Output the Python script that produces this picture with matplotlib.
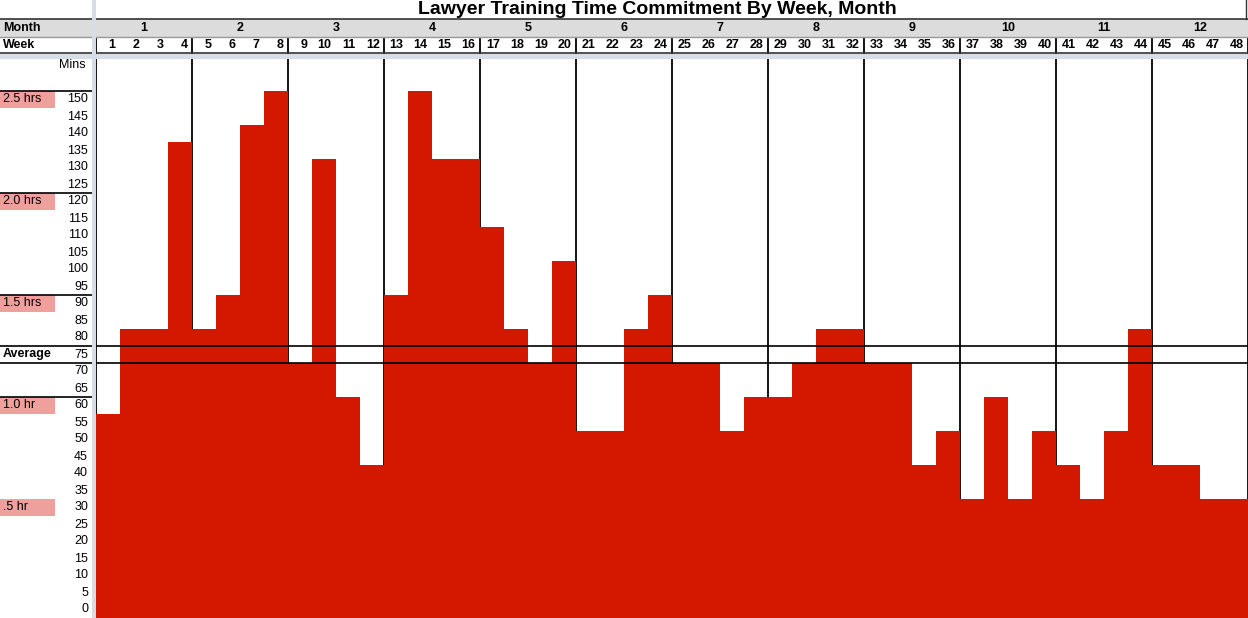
import matplotlib.pyplot as plt
import numpy as np

plt.rcParams['font.family'] = ['Liberation Sans', 'DejaVu Sans']

title = 'Lawyer Training Time Commitment By Week, Month'
months = list(range(1, 13))
weeks = np.arange(1, 49)
mins = [55, 80, 80, 135, 80, 90, 140, 150, 70, 130, 60, 40,
        90, 150, 130, 130, 110, 80, 70, 100, 50, 50, 80, 90,
        70, 70, 50, 60, 60, 70, 80, 80, 70, 70, 40, 50,
        30, 60, 30, 50, 40, 30, 50, 80, 40, 40, 30, 30]
y_ticks = list(range(0, 155, 5))
hour_labels = ['2.5 hrs', '2.0 hrs', '1.5 hrs', '1.0 hr', '.5 hr']
hour_mins = [150, 120, 90, 60, 30]
lined_hours = [150, 120, 90, 60]
average_mins = 75

RED = '#d41800'
PINK = '#ef9f9c'
SEP = '#d6dde6'
PX = 3.4                      # pixels per minute
Y_TOP = -2.5 + 618 / PX


def ypix(p):
    return Y_TOP - p / PX


def xpix(p):
    return p / 24 - 4


fig = plt.figure(figsize=(12.48, 6.18), dpi=100)
ax = fig.add_axes([0, 0, 1, 1])
ax.set_xlim(-4, 48)
ax.set_ylim(-2.5, Y_TOP)
ax.axis('off')

# bars fill whole spreadsheet cells, up to the top of the row of their value
ax.bar(weeks - 1, np.array(mins) + 5, width=1, bottom=-2.5, align='edge',
       color=RED, linewidth=0, zorder=2)

# month boundaries
for k in range(0, 49, 4):
    ax.plot([k, k], [-2.5, ypix(37)], color='black', lw=1.3, zorder=1)
    ax.plot([k, k], [ypix(37), ypix(19)], color='#999999', lw=1, zorder=1)

# average row
for yy in (average_mins - 2.5, average_mins + 2.5):
    ax.plot([-4, 48], [yy, yy], color='black', lw=1.2, zorder=3)
ax.text(xpix(3), average_mins, 'Average', ha='left', va='center',
        fontsize=9, fontweight='bold')

# y labels
for m in y_ticks:
    ax.text(xpix(88), m, str(m), ha='right', va='center', fontsize=9)
ax.text(xpix(86), 160, 'Mins', ha='right', va='center', fontsize=9)

for lab, m in zip(hour_labels, hour_mins):
    ax.add_patch(plt.Rectangle((-4, m - 2.5), xpix(55) + 4, 5,
                               color=PINK, lw=0, zorder=1))
    ax.text(xpix(3), m, lab, ha='left', va='center', fontsize=9)
for m in lined_hours:
    ax.plot([-4, xpix(92)], [m + 2.5, m + 2.5], color='black', lw=1.2)

# header rows
ax.add_patch(plt.Rectangle((-4, ypix(37)), 52, ypix(19) - ypix(37),
                           color='#dcdcdc', lw=0, zorder=1))
ax.plot([-4, 48], [ypix(19), ypix(19)], color='#333333', lw=1.2)
ax.plot([-4, 48], [ypix(37), ypix(37)], color='#999999', lw=1)
ax.plot([-4, 48], [ypix(53), ypix(53)], color='#333333', lw=1.2)
ax.add_patch(plt.Rectangle((-4, ypix(58.5)), 52, ypix(54) - ypix(58.5),
                           color=SEP, lw=0, zorder=4))
ax.add_patch(plt.Rectangle((xpix(91.5), -2.5), xpix(95.5) - xpix(91.5),
                           Y_TOP + 2.5, color=SEP, lw=0, zorder=4))
ax.plot([xpix(1246), xpix(1246)], [ypix(19), Y_TOP], color='#333333', lw=1)

ax.text(xpix(3), ypix(28), 'Month', ha='left', va='center',
        fontsize=9, fontweight='bold')
ax.text(xpix(3), ypix(45), 'Week', ha='left', va='center',
        fontsize=9, fontweight='bold')
for i, mo in enumerate(months):
    ax.text(4 * i + 2, ypix(28), str(mo), ha='center', va='center',
            fontsize=9, fontweight='bold')
for w in weeks:
    ax.text(w - 0.18, ypix(45), str(w), ha='right', va='center',
            fontsize=9, fontweight='bold')

ax.text(xpix(657), ypix(9), title, ha='center', va='center',
        fontsize=14, fontweight='bold')

fig.savefig('out.png', dpi=100)
